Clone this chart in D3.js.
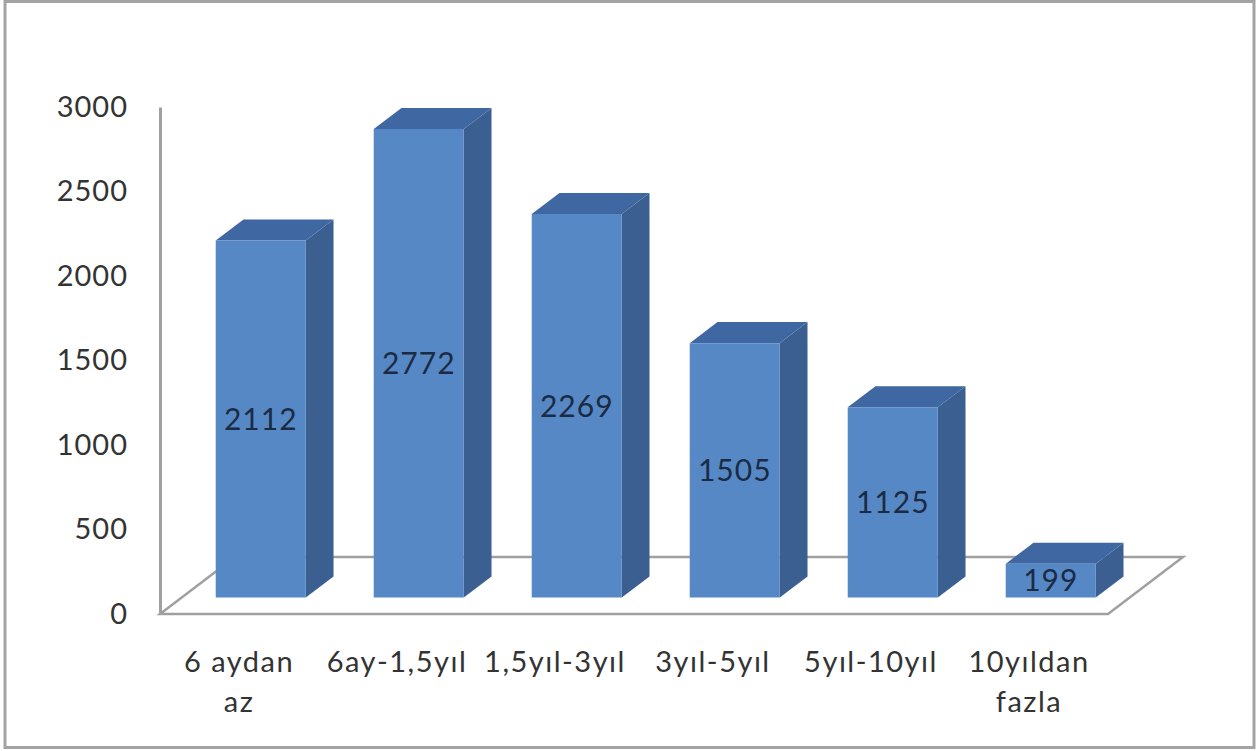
<!DOCTYPE html>
<html>
<head>
<meta charset="utf-8">
<script src="https://cdn.jsdelivr.net/npm/d3@7"></script>
<style>
  body { margin: 0; background: #fff; }
  #chart { width: 1258px; height: 751px; }
</style>
</head>
<body>
<div id="chart"></div>
<script>
const categories = [["6 aydan", "az"], ["6ay-1,5yıl"], ["1,5yıl-3yıl"], ["3yıl-5yıl"], ["5yıl-10yıl"], ["10yıldan", "fazla"]];
const values = [2112, 2772, 2269, 1505, 1125, 199];
const yTicks = [0, 500, 1000, 1500, 2000, 2500, 3000];

const width = 1258, height = 751;
const font = "Lato, 'Open Sans', sans-serif";
const svg = d3.select("#chart").append("svg")
  .attr("width", width).attr("height", height)
  .style("font-family", font);

// frame
svg.append("rect")
  .attr("x", 5).attr("y", 1.5).attr("width", 1249).attr("height", 746)
  .attr("fill", "#fff").attr("stroke", "#a3a3a3").attr("stroke-width", 3);

// 3d setup: front plane + depth offset
const depth = { dx: 75, dy: -57 };
const z0 = 0.29, z1 = 0.66;   // bar front/back in the floor depth

const xScale = d3.scaleBand()
  .domain(d3.range(categories.length))
  .range([160, 1108])
  .paddingInner(0.43)
  .paddingOuter(0.215);

const yScale = d3.scaleLinear().domain([0, 3000]).range([614, 107]);

const proj = (x, v, z) => [x + z * depth.dx, yScale(v) + z * depth.dy];

// floor
const floor = [proj(160, 0, 0), proj(1108, 0, 0), proj(1108, 0, 1), proj(160, 0, 1)];
svg.append("path")
  .attr("d", d3.line()(floor) + "Z")
  .attr("fill", "none").attr("stroke", "#a0a0a0").attr("stroke-width", 2.5);

// y axis
svg.append("g")
  .attr("transform", "translate(160,0)")
  .call(d3.axisLeft(yScale).tickValues(yTicks).tickFormat(d3.format("d")).tickSize(0).tickPadding(32))
  .call(g => g.select(".domain").attr("stroke", "#a0a0a0").attr("stroke-width", 3))
  .call(g => g.selectAll("text").attr("font-size", 29).attr("fill", "#333")
    .attr("letter-spacing", 1).attr("font-family", font));

// bars
const bars = svg.append("g").selectAll("g").data(values).join("g");
bars.each(function (v, i) {
  const g = d3.select(this);
  const xl = xScale(i), xr = xScale(i) + xScale.bandwidth();
  const fbl = proj(xl, 0, z0), fbr = proj(xr, 0, z0);
  const ftl = proj(xl, v, z0), ftr = proj(xr, v, z0);
  const bbr = proj(xr, 0, z1), btl = proj(xl, v, z1), btr = proj(xr, v, z1);
  g.append("path").attr("d", d3.line()([fbr, ftr, btr, bbr]) + "Z").attr("fill", "#3b5f91");
  g.append("path").attr("d", d3.line()([ftl, ftr, btr, btl]) + "Z").attr("fill", "#3f67a2");
  g.append("path").attr("d", d3.line()([fbl, fbr, ftr, ftl]) + "Z").attr("fill", "#5688c6");
  g.append("text")
    .attr("x", (fbl[0] + fbr[0]) / 2)
    .attr("y", (fbl[1] + ftl[1]) / 2)
    .attr("dy", "0.36em")
    .attr("text-anchor", "middle")
    .attr("font-size", 30)
    .attr("letter-spacing", 1)
    .attr("fill", "#1c2b44")
    .text(v);
});

// category labels
const labels = svg.append("g").selectAll("text").data(categories).join("text")
  .attr("x", (d, i) => xScale(i) + xScale.bandwidth() / 2)
  .attr("y", 672)
  .attr("text-anchor", "middle")
  .attr("font-size", 29)
  .attr("letter-spacing", 1.5)
  .attr("fill", "#333");
labels.selectAll("tspan").data(d => d).join("tspan")
  .attr("x", function () { return d3.select(this.parentNode).attr("x"); })
  .attr("dy", (d, j) => j === 0 ? 0 : 40)
  .text(d => d);
</script>
</body>
</html>
